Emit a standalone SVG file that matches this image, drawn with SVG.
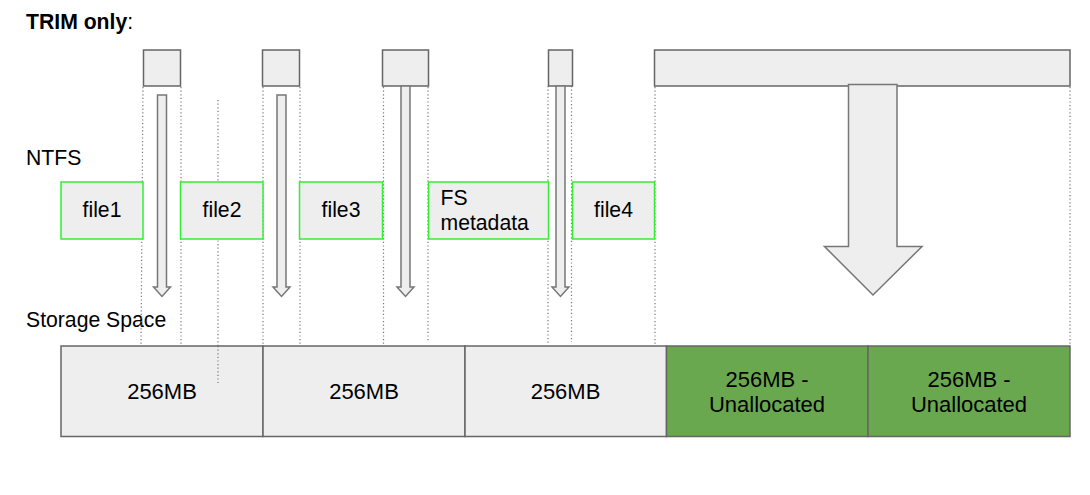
<svg xmlns="http://www.w3.org/2000/svg" width="1090" height="495" viewBox="0 0 1090 495">
<style>
text{font-family:"Liberation Sans",Arial,sans-serif;font-size:21.2px;fill:#000}
.blk{fill:#eeeeee;stroke:#666666;stroke-width:1.5}
.file{fill:#eeeeee;stroke:#33ee33;stroke-width:1.5}
.free{fill:#6aa84f;stroke:#666666;stroke-width:1.5}
.dot{stroke:#777777;stroke-width:1.2;stroke-dasharray:1.2 2.4;fill:none}
.arr{fill:#eeeeee;stroke:#777777;stroke-width:1.5;stroke-linejoin:miter}
.c{text-anchor:middle}
.st{font-size:22px}
</style>
<rect width="1090" height="495" fill="#ffffff"/>
<text x="26" y="29" font-size="21.8"><tspan font-weight="bold">TRIM only</tspan>:</text>
<text x="26" y="165">NTFS</text>
<text x="26" y="327">Storage Space</text>

<g id="connectors">
<line class="dot" x1="143" y1="87" x2="141" y2="345"/>
<line class="dot" x1="181" y1="87" x2="181" y2="345"/>
<line class="dot" x1="218" y1="100" x2="218" y2="383"/>
<line class="dot" x1="263" y1="87" x2="263" y2="345"/>
<line class="dot" x1="300" y1="87" x2="300" y2="345"/>
<line class="dot" x1="383.5" y1="87" x2="383.5" y2="345"/>
<line class="dot" x1="428" y1="87" x2="428" y2="342"/>
<line class="dot" x1="548" y1="86" x2="548" y2="344"/>
<line class="dot" x1="571.5" y1="86" x2="571.5" y2="342"/>
<line class="dot" x1="655" y1="87" x2="655" y2="350"/>
<line class="dot" x1="1070" y1="87" x2="1070" y2="345"/>
</g>

<g id="top-blocks">
<rect class="blk" x="143.5" y="50" width="37" height="36"/>
<rect class="blk" x="262.5" y="50" width="37" height="36"/>
<rect class="blk" x="382.5" y="50" width="46" height="36"/>
<rect class="blk" x="548.5" y="50" width="24" height="36"/>
<rect class="blk" x="654.5" y="50" width="415.5" height="36"/>
</g>

<g id="arrows">
<polygon class="arr" points="157.5,95 166.5,95 166.5,287 170.5,287 162,296.5 153.5,287 157.5,287"/>
<polygon class="arr" points="277,95 286,95 286,287 290,287 281.5,296.5 273,287 277,287"/>
<polygon class="arr" points="401,86 410,86 410,287 414,287 405.5,296.5 397,287 401,287"/>
<polygon class="arr" points="556,86 565,86 565,287 569,287 560.5,296.5 552,287 556,287"/>
<polygon class="arr" points="848.5,84.5 897,84.5 897,246.5 922,246.5 873,295 824.5,246.5 848.5,246.5"/>
</g>

<g id="file1"><rect class="file" x="61" y="182" width="82" height="57"/><text class="c" x="102" y="217">file1</text></g>
<g id="file2"><rect class="file" x="180.5" y="182" width="82.5" height="57"/><text class="c" x="222" y="217">file2</text></g>
<g id="file3"><rect class="file" x="299.5" y="182" width="83" height="57"/><text class="c" x="341" y="217">file3</text></g>
<g id="fs-metadata"><rect class="file" x="428.5" y="182" width="120" height="57"/><text x="440.5" y="205">FS</text><text x="440.5" y="230">metadata</text></g>
<g id="file4"><rect class="file" x="572.5" y="182" width="82" height="57"/><text class="c" x="613.5" y="217">file4</text></g>

<g id="storage1"><rect class="blk" x="61" y="346" width="202" height="90.5"/><text class="c st" x="162" y="399">256MB</text></g>
<g id="storage2"><rect class="blk" x="263" y="346" width="202" height="90.5"/><text class="c st" x="364" y="399">256MB</text></g>
<g id="storage3"><rect class="blk" x="465" y="346" width="201.5" height="90.5"/><text class="c st" x="565.5" y="399">256MB</text></g>
<g id="storage4"><rect class="free" x="666.5" y="346" width="201.5" height="90.5"/><text class="c st" x="767" y="387">256MB -</text><text class="c st" x="767" y="411.5">Unallocated</text></g>
<g id="storage5"><rect class="free" x="868" y="346" width="202" height="90.5"/><text class="c st" x="969" y="387">256MB -</text><text class="c st" x="969" y="411.5">Unallocated</text></g>
<line class="dot" x1="218" y1="346" x2="218" y2="383"/>
</svg>
